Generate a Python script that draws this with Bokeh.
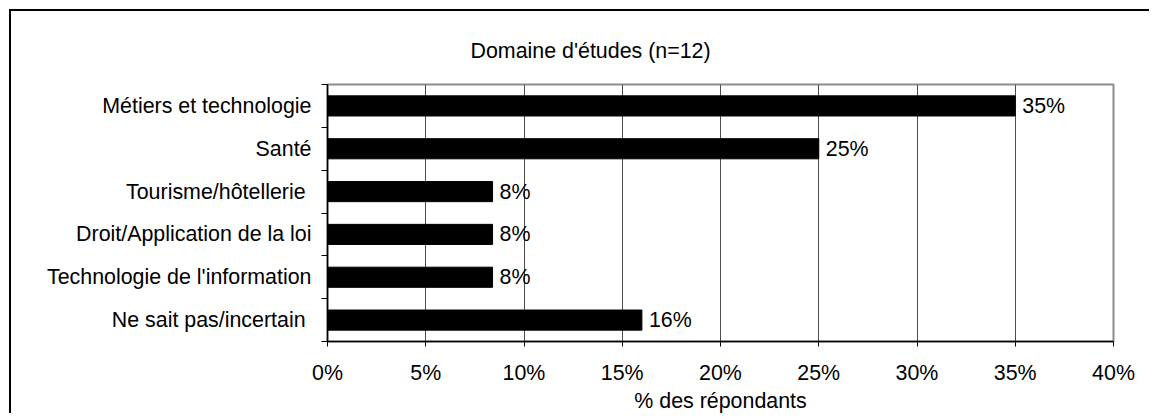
from bokeh.plotting import figure
from bokeh.models import FixedTicker, PrintfTickFormatter, Range1d, ColumnDataSource
from bokeh.core.properties import value
from bokeh.embed import file_html
from bokeh.resources import INLINE

categories = ["Métiers et technologie", "Santé", "Tourisme/hôtellerie ",
              "Droit/Application de la loi", "Technologie de l'information",
              "Ne sait pas/incertain "]
percent = [35, 25, 8.4, 8.4, 8.4, 16]
value_labels = ["35%", "25%", "8%", "8%", "8%", "16%"]
x_ticks = [0, 5, 10, 15, 20, 25, 30, 35, 40]
title_text = "Domaine d'études (n=12)"
x_title = "% des répondants"

FONT = "Liberation Sans"
FS = "21.4px"

n = len(categories)
ypos = [n - 0.5 - i for i in range(n)]
src = ColumnDataSource(dict(y=ypos, x=percent, lbl=value_labels))

p = figure(width=1140, height=404, output_backend="svg", toolbar_location=None,
           x_range=Range1d(0, 40), y_range=Range1d(0, n),
           min_border_left=316, min_border_right=38, min_border_top=73, min_border_bottom=73)
p.styles = {"border-left": "2px solid black", "border-top": "2px solid black",
            "margin-left": "9px", "margin-top": "9px"}
p.background_fill_color = "white"
p.border_fill_color = "white"
p.outline_line_color = "#8c8c8c"
p.outline_line_width = 2

p.title.text = title_text
p.title.align = "left"
p.title.offset = 143
p.title.standoff = 43
p.title.text_font = FONT
p.title.text_font_size = FS
p.title.text_font_style = "normal"
p.title.text_color = "black"

p.hbar(y="y", right="x", left=0, height=0.47, fill_color="black", line_color="black", source=src)
p.text(x="x", y="y", text="lbl", x_offset=7, text_baseline="middle", text_align="left",
       text_font=value(FONT), text_font_size=FS, text_color="black", source=src)

p.xgrid.ticker = FixedTicker(ticks=x_ticks)
p.xgrid.grid_line_color = "#4d4d4d"
p.xgrid.grid_line_width = 1
p.ygrid.visible = False

xa = p.xaxis[0]
xa.ticker = FixedTicker(ticks=x_ticks)
xa.formatter = PrintfTickFormatter(format="%d%%")
xa.major_tick_out = 5
xa.major_tick_in = 0
xa.minor_tick_out = 0
xa.minor_tick_in = 0
xa.major_label_standoff = 14
xa.axis_line_color = "black"
xa.axis_line_width = 1.5
xa.major_tick_line_color = "black"
xa.major_label_text_font = FONT
xa.major_label_text_font_size = FS
xa.major_label_text_color = "black"
xa.axis_label = x_title
xa.axis_label_standoff = 1
xa.axis_label_text_font = FONT
xa.axis_label_text_font_size = FS
xa.axis_label_text_font_style = "normal"
xa.axis_label_text_color = "black"

ya = p.yaxis[0]
ya.ticker = FixedTicker(ticks=ypos, minor_ticks=list(range(n + 1)))
ya.major_label_overrides = {y: c for y, c in zip(ypos, categories)}
ya.major_tick_out = 0
ya.major_tick_in = 0
ya.minor_tick_out = 6
ya.minor_tick_in = 0
ya.minor_tick_line_color = "black"
ya.major_label_standoff = 10
ya.axis_line_color = "black"
ya.axis_line_width = 1.5
ya.major_label_text_font = FONT
ya.major_label_text_font_size = FS
ya.major_label_text_color = "black"

open("out.html", "w").write(file_html(p, INLINE))
